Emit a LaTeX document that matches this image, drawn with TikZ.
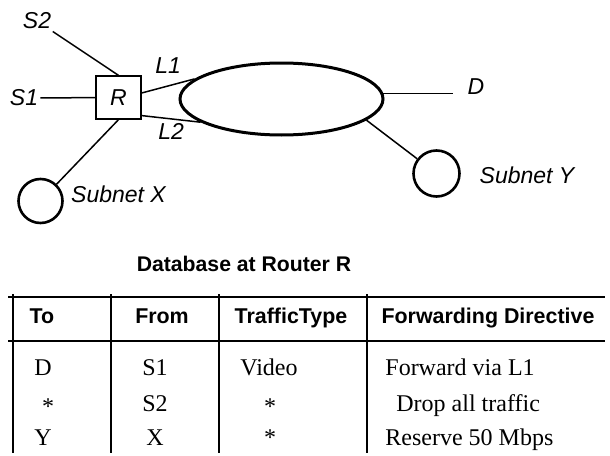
\documentclass[tikz,border=0pt]{standalone}
\usepackage{fontspec}
\setmainfont{Liberation Serif}
\setsansfont{Liberation Sans}
\usetikzlibrary{shapes.geometric}

\begin{document}
\begin{tikzpicture}[x=0.5pt,y=-0.5pt,
  router node/.style={rectangle,draw,line width=0.65pt,minimum width=22.5pt,minimum height=21.5pt,inner sep=0pt,font=\sffamily\itshape\fontsize{11.5}{13}\selectfont},
  subnet node/.style={circle,draw,line width=1.3pt,minimum size=22pt,inner sep=0pt},
  cloud node/.style={ellipse,draw,line width=1.5pt,minimum width=101.5pt,minimum height=36pt,inner sep=0pt},
  label node/.style={font=\sffamily\itshape\fontsize{11.5}{13}\selectfont,inner sep=1pt},
  head node/.style={font=\sffamily\bfseries\fontsize{10.7}{12}\selectfont,anchor=base,inner sep=0pt},
  cell node/.style={font=\rmfamily\fontsize{12}{14}\selectfont,anchor=base,inner sep=0pt},
  link/.style={line width=0.75pt}]

  \useasboundingbox (0,0) rectangle (610,455);

  % network
  \node[router node] (R) at (118.5,97.5) {R};
  \node[cloud node] (net) at (281.5,99) {};
  \node[subnet node] (X) at (40.5,201) {};
  \node[subnet node, minimum size=23pt] (Y) at (436.5,173.5) {};
  \node[label node] (S1) at (24,98) {S1};
  \node[label node] (S2) at (37,21) {S2};
  \node[label node] (D) at (476,87) {D};
  \node[label node] (Xname) at (118.5,194) {Subnet X};
  \node[label node] (Yname) at (527,175) {Subnet Y};

  \path[link]
       (S2) edge (R.north)
       (S1) edge (R)
       (X) edge (R.south)
       (R.11) edge node[label node, above=5pt] {L1} (net.167)
       (R.-38) edge node[label node, below=1pt] {L2} (net.196)
       (net.3) edge[shorten >=6pt] (net.3 -| D.west)
       (net.-14) edge (Y);

  % database table
  \node[font=\sffamily\bfseries\fontsize{10.6}{12}\selectfont] (title) at (244,264) {Database at Router R};

  \draw[line width=0.9pt] (8,297) -- (605,297);
  \draw[line width=0.9pt] (8,341) -- (605,341);
  \foreach \x in {13,111,219,367}
    \draw[line width=0.7pt] (\x,294) -- (\x,453);

  \node[head node] (to) at (42,323.5) {To};
  \node[head node] (from) at (162,323.5) {From};
  \node[head node] (type) at (291,323.5) {TrafficType};
  \node[head node] (dir) at (488,323.5) {Forwarding Directive};

  \node[cell node] (to1) at (43,375) {D};
  \node[cell node] (from1) at (155,375) {S1};
  \node[cell node] (type1) at (269,375) {Video};
  \node[cell node, anchor=base west] (dir1) at (385,375) {Forward via L1};

  \node[cell node] (to2) at (48,414) {*};
  \node[cell node] (from2) at (155,411) {S2};
  \node[cell node] (type2) at (270,414) {*};
  \node[cell node, anchor=base west] (dir2) at (396,411) {Drop all traffic};

  \node[cell node] (to3) at (43,445) {Y};
  \node[cell node] (from3) at (155,445) {X};
  \node[cell node] (type3) at (270,445) {*};
  \node[cell node, anchor=base west] (dir3) at (385,445) {Reserve 50 Mbps};
\end{tikzpicture}
\end{document}
